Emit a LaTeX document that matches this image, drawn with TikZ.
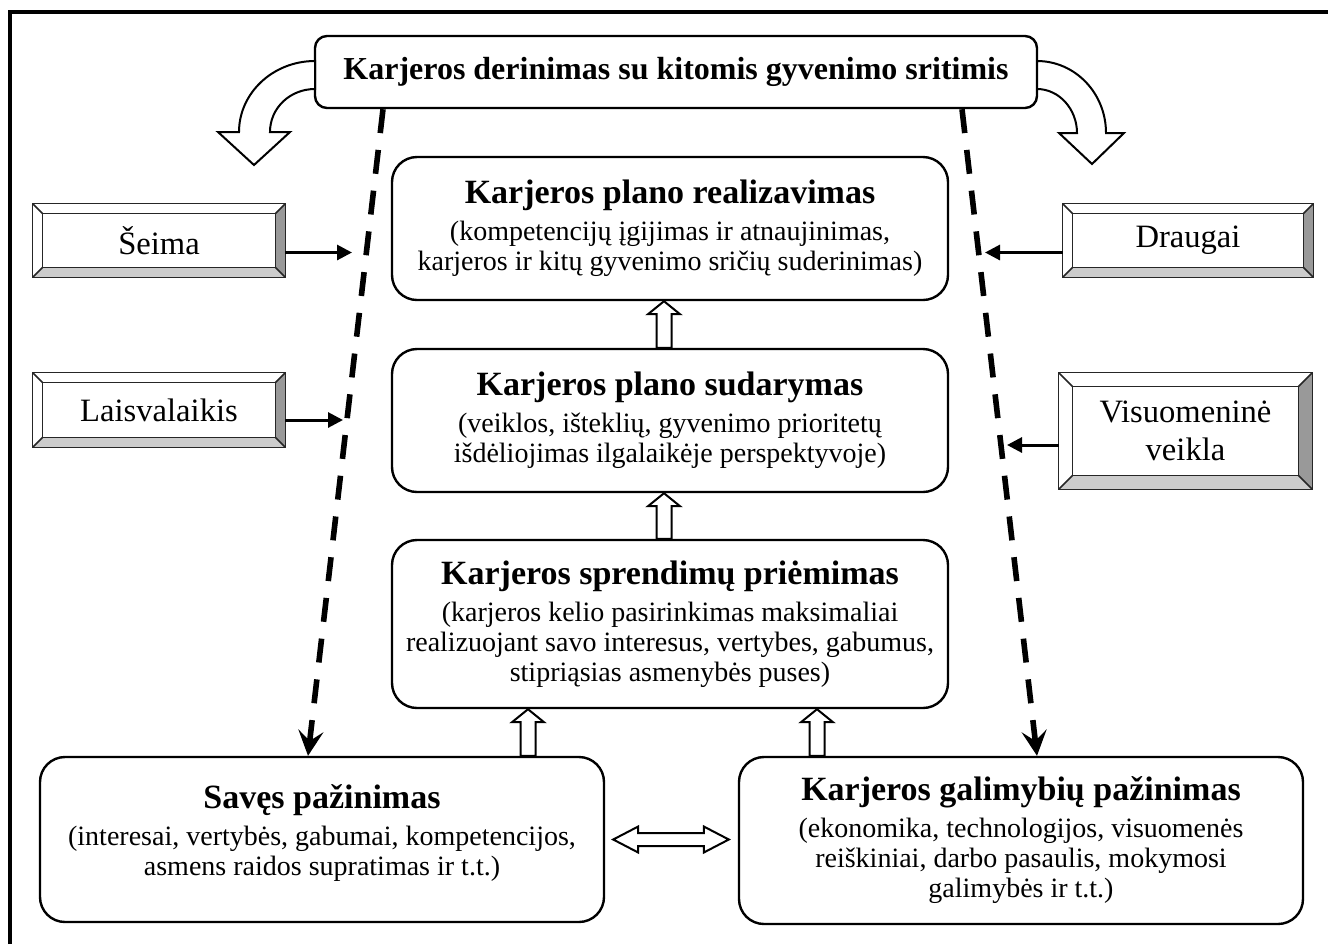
\documentclass[tikz,border=0pt]{standalone}
\usepackage{fontspec}
\setmainfont{Liberation Serif}
\usetikzlibrary{arrows.meta,calc}
\def\pxu{0.5pt}
\newcommand\bodyfont{\fontsize{14}{15}\selectfont}
\newcommand\headfont{\fontsize{17}{18}\selectfont\bfseries}
\newcommand\titlefont{\fontsize{16}{18}\selectfont\bfseries}
\newcommand\sidefont{\fontsize{16.3}{19}\selectfont}
\tikzset{
  cbox/.style={draw, line width=1.2pt, rounded corners=12.5pt, align=center, inner sep=0pt, font=\bodyfont, fill=white},
  tbox/.style={draw, line width=1.2pt, rounded corners=6pt, align=center, inner sep=0pt, font=\titlefont, fill=white},
  sbox/.style={align=center, inner sep=0pt, font=\sidefont},
  bevR/.style={fill=black!40},
  bevB/.style={fill=black!20},
  bevline/.style={draw=black!85, line width=0.8pt},
  hollow/.style={draw, line width=1pt, fill=white, line join=miter},
  sidearrow/.style={line width=1.5pt, -{Triangle[length=7.5pt,width=7.5pt]}},
  dasharrow/.style={line width=2.8pt, dash pattern=on 12pt off 8.5pt, -{Stealth[length=12.5pt,width=12.5pt,inset=5pt]}},
  frame/.style={line width=2pt},
}
\newcommand\bevel[2]{%
  \fill[bevR] (#1.north east) -- (#1.south east) -- ($(#1.south east)+(-#2,-#2)$) -- ($(#1.north east)+(-#2,#2)$) -- cycle;
  \fill[bevB] (#1.south west) -- (#1.south east) -- ($(#1.south east)+(-#2,-#2)$) -- ($(#1.south west)+(#2,-#2)$) -- cycle;
  \draw[bevline] ($(#1.north west)+(#2,#2)$) rectangle ($(#1.south east)+(-#2,-#2)$);
  \draw[bevline] (#1.north west) -- ++(#2,#2) (#1.north east) -- ++(-#2,#2)
                 (#1.south east) -- ++(-#2,-#2) (#1.south west) -- ++(#2,-#2);
  \draw[bevline] (#1.north west) rectangle (#1.south east);
}
\newcommand\hollowup[2]{%
  \draw[hollow] let \p1=(#1), \p2=(#2) in
    (\x1-3.75pt,\y1) -- (\x1-3.75pt,\y2-6.5pt) -- (\x1-8pt,\y2-6.5pt) -- (\x1,\y2)
    -- (\x1+8pt,\y2-6.5pt) -- (\x1+3.75pt,\y2-6.5pt) -- (\x1+3.75pt,\y1) -- cycle;
}
\begin{document}
\begin{tikzpicture}[x=0.5pt,y=-0.5pt]
\useasboundingbox (0,0) rectangle (1328,944);
\fill[white] (0,0) rectangle (1328,944);
% outer frame (left and top)
\draw[frame] (10,944) -- (10,11.5) -- (1328,11.5);

% title box
\node[tbox, minimum width=722*\pxu, minimum height=72*\pxu] (T) at (676,72)
  {Karjeros derinimas su kitomis gyvenimo sritimis};

% curved hollow arrows
\draw[hollow] (315,61) .. controls (273,61) and (239,93) .. (239,132) -- (218,132) -- (254,165)
  -- (290,132) -- (270,132) .. controls (270,108) and (290,89) .. (315,89) -- cycle;
\draw[hollow] (1037,61) .. controls (1075,61) and (1106,93) .. (1106,133) -- (1124,133) -- (1092,164)
  -- (1059,133) -- (1077,133) .. controls (1077,109) and (1059,89) .. (1037,89) -- cycle;

% central boxes
\node[cbox, minimum width=556*\pxu, minimum height=143*\pxu] (A) at (670,228.5)
  {{\headfont Karjeros plano realizavimas}\\[3.5pt]
   (kompetencijų įgijimas ir atnaujinimas,\\
   karjeros ir kitų gyvenimo sričių suderinimas)};
\node[cbox, minimum width=556*\pxu, minimum height=143*\pxu] (B) at (670,420.5)
  {{\headfont Karjeros plano sudarymas}\\[3.5pt]
   (veiklos, išteklių, gyvenimo prioritetų\\
   išdėliojimas ilgalaikėje perspektyvoje)};
\node[cbox, minimum width=556*\pxu, minimum height=168*\pxu] (C) at (670,624)
  {{\headfont Karjeros sprendimų priėmimas}\\[3.5pt]
   (karjeros kelio pasirinkimas maksimaliai\\
   realizuojant savo interesus, vertybes, gabumus,\\
   stipriąsias asmenybės puses)};
\node[cbox, minimum width=564*\pxu, minimum height=165*\pxu] (D) at (322,839.5)
  {{\headfont Savęs pažinimas}\\[3.5pt]
   (interesai, vertybės, gabumai, kompetencijos,\\
   asmens raidos supratimas ir t.t.)\\[-5pt]\mbox{}};
\node[cbox, minimum width=564*\pxu, minimum height=167*\pxu] (E) at (1021,840.5)
  {{\headfont Karjeros galimybių pažinimas}\\[3.5pt]
   (ekonomika, technologijos, visuomenės\\
   reiškiniai, darbo pasaulis, mokymosi\\
   galimybės ir t.t.)};

% side bevel boxes
\node[sbox, minimum width=252*\pxu, minimum height=73*\pxu] (S) at (159,240.5) {Šeima};
\bevel{S}{10}
\node[sbox, minimum width=252*\pxu, minimum height=74*\pxu] (L) at (159,410) {Laisvalaikis};
\bevel{L}{10}
\node[sbox, minimum width=250*\pxu, minimum height=73*\pxu] (Dr) at (1188,240.5) {Draugai};
\bevel{Dr}{10}
\node[sbox, minimum width=253*\pxu, minimum height=116*\pxu] (V) at (1185.5,431) {Visuomeninė\\veikla};
\bevel{V}{14}

% side arrows
\coordinate (Se) at (352,252.5);
\coordinate (Le) at (343,420);
\coordinate (De) at (985,252.5);
\coordinate (Ve) at (1007,445);
\draw[sidearrow] ([yshift=-6pt]S.east) -- (Se);
\draw[sidearrow] ([yshift=-5pt]L.east) -- (Le);
\draw[sidearrow] ([yshift=-6pt]Dr.west) -- (De);
\draw[sidearrow] ([yshift=-7pt]V.west) -- (Ve);

% dashed arrows
\draw[dasharrow] ([xshift=-146.5pt]T.south) -- ([xshift=-7pt]D.north);
\draw[dasharrow] ([xshift=143pt]T.south) -- ([xshift=8pt]E.north);

% hollow vertical arrows
\hollowup{[xshift=-3pt]B.north}{[xshift=-3pt]A.south}
\hollowup{[xshift=-3pt]C.north}{[xshift=-3pt]B.south}
\hollowup{[xshift=103pt]D.north}{C.south}
\hollowup{[xshift=-102pt]E.north}{C.south}

% double hollow arrow
\draw[hollow] let \p1=([xshift=4pt]D.east), \p2=([xshift=-4.5pt]E.west) in
  (\x1,\y1) -- (\x1+12.5pt,\y1+6.5pt) -- (\x1+12.5pt,\y1+3.25pt) -- (\x2-12.5pt,\y1+3.25pt)
  -- (\x2-12.5pt,\y1+6.5pt) -- (\x2,\y1) -- (\x2-12.5pt,\y1-6.5pt) -- (\x2-12.5pt,\y1-3.25pt)
  -- (\x1+12.5pt,\y1-3.25pt) -- (\x1+12.5pt,\y1-6.5pt) -- cycle;
\end{tikzpicture}
\end{document}
